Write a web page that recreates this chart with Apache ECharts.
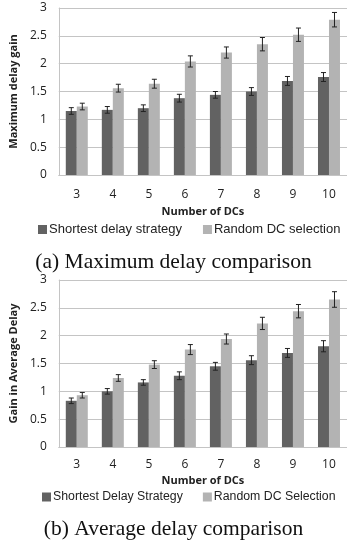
<!DOCTYPE html>
<html style="height: 100%">
<head>
<meta charset="utf-8">
<script src="https://cdn.jsdelivr.net/npm/echarts@6/dist/echarts.min.js"></script>
</head>
<body style="height: 100%; margin: 0; background: #fff">
	<div id="container" style="width: 347px; height: 542px"></div>
	<script type="text/javascript">
		// 横轴
		var dcs = ['3', '4', '5', '6', '7', '8', '9', '10'];
		var yTicks = [0, 0.5, 1, 1.5, 2, 2.5, 3];

		// (a) 最大时延
		var maxShortest = [1.15, 1.17, 1.20, 1.38, 1.44, 1.50, 1.69, 1.76];
		var maxShortestErr = [0.06, 0.06, 0.06, 0.07, 0.06, 0.07, 0.08, 0.08];
		var maxRandom = [1.23, 1.56, 1.64, 2.04, 2.20, 2.35, 2.52, 2.79];
		var maxRandomErr = [0.06, 0.07, 0.08, 0.10, 0.10, 0.12, 0.12, 0.13];

		// (b) 平均时延
		var avgShortest = [0.83, 1.00, 1.16, 1.28, 1.45, 1.56, 1.69, 1.81];
		var avgShortestErr = [0.05, 0.05, 0.05, 0.07, 0.07, 0.08, 0.08, 0.10];
		var avgRandom = [0.93, 1.24, 1.48, 1.75, 1.94, 2.22, 2.44, 2.65];
		var avgRandomErr = [0.05, 0.06, 0.07, 0.09, 0.09, 0.11, 0.12, 0.14];

		var darkColor = '#626262';
		var lightColor = '#b3b3b3';
		var gridColor = '#c4c4c4';
		var sansFont = '"Open Sans", sans-serif';
		var legendFont = '"Liberation Sans", sans-serif';
		var serifFont = '"Liberation Serif", serif';
		var barW = 11;

		var dom = document.getElementById("container");
		var myChart = echarts.init(dom);

		function xAxisFor(idx, labelMargin, nameGap) {
			return {
				type: 'category',
				gridIndex: idx,
				data: dcs,
				name: 'Number of DCs',
				nameLocation: 'middle',
				nameGap: nameGap,
				nameTextStyle: { fontFamily: sansFont, fontSize: 11, fontWeight: 'bold', color: '#222' },
				axisLine: { lineStyle: { color: gridColor, width: 1 } },
				axisTick: { show: false },
				axisLabel: { fontFamily: sansFont, fontSize: 12, color: '#222', margin: labelMargin }
			};
		}

		function yAxisFor(idx, title) {
			return {
				type: 'value',
				gridIndex: idx,
				min: yTicks[0],
				max: yTicks[yTicks.length - 1],
				interval: 0.5,
				name: title,
				nameLocation: 'middle',
				nameRotate: 90,
				nameGap: 31,
				nameTextStyle: { fontFamily: sansFont, fontSize: 11, fontWeight: 'bold', color: '#222' },
				axisLine: { show: true, lineStyle: { color: gridColor, width: 1 } },
				axisTick: { show: false },
				splitLine: { lineStyle: { color: gridColor, width: 1 } },
				axisLabel: { fontFamily: sansFont, fontSize: 12, color: '#222', margin: 12 }
			};
		}

		function barSeries(name, idx, data, color) {
			return {
				name: name,
				type: 'bar',
				xAxisIndex: idx,
				yAxisIndex: idx,
				barWidth: barW,
				barGap: '0%',
				itemStyle: { color: color },
				data: data
			};
		}

		// 误差线
		function errSeries(idx, vals, errs, shift) {
			var data = vals.map(function (v, i) { return [i, v - errs[i], v + errs[i]]; });
			return {
				type: 'custom',
				xAxisIndex: idx,
				yAxisIndex: idx,
				silent: true,
				z: 5,
				data: data,
				renderItem: function (params, api) {
					var lo = api.coord([api.value(0), api.value(1)]);
					var hi = api.coord([api.value(0), api.value(2)]);
					var x = lo[0] + shift;
					var cap = 2.5;
					var st = { stroke: '#222', lineWidth: 1 };
					return {
						type: 'group',
						children: [
							{ type: 'line', shape: { x1: x, y1: lo[1], x2: x, y2: hi[1] }, style: st },
							{ type: 'line', shape: { x1: x - cap, y1: lo[1], x2: x + cap, y2: lo[1] }, style: st },
							{ type: 'line', shape: { x1: x - cap, y1: hi[1], x2: x + cap, y2: hi[1] }, style: st }
						]
					};
				}
			};
		}

		function legendFor(names, left, top, fontSize, gap) {
			return {
				data: names, left: left, top: top, width: 340,
				itemWidth: 9, itemHeight: 9, itemGap: gap, icon: 'rect',
				textStyle: { fontFamily: legendFont, fontSize: fontSize, color: '#222', padding: [0, 0, 0, -3] }
			};
		}

		var option = {
			animation: false,
			title: [
				{ text: '(a) Maximum delay comparison', left: 'center', top: 246,
				  textStyle: { fontFamily: serifFont, fontSize: 21.5, fontWeight: 'normal', color: '#111' } },
				{ text: '(b) Average delay comparison', left: 'center', top: 513,
				  textStyle: { fontFamily: serifFont, fontSize: 21.5, fontWeight: 'normal', color: '#111' } }
			],
			legend: [
				legendFor(['Shortest delay strategy', 'Random DC selection'], 33, 218, 13, 21),
				legendFor(['Shortest Delay Strategy', 'Random DC Selection'], 37, 486, 12.3, 20)
			],
			grid: [
				{ left: 49, top: 8, width: 300, height: 167 },
				{ left: 49, top: 280, width: 302, height: 167 }
			],
			xAxis: [xAxisFor(0, 14, 31), xAxisFor(1, 12, 28)],
			yAxis: [yAxisFor(0, 'Maximum delay gain'), yAxisFor(1, 'Gain in Average Delay')],
			series: [
				barSeries('Shortest delay strategy', 0, maxShortest, darkColor),
				barSeries('Random DC selection', 0, maxRandom, lightColor),
				errSeries(0, maxShortest, maxShortestErr, -barW / 2),
				errSeries(0, maxRandom, maxRandomErr, barW / 2),
				barSeries('Shortest Delay Strategy', 1, avgShortest, darkColor),
				barSeries('Random DC Selection', 1, avgRandom, lightColor),
				errSeries(1, avgShortest, avgShortestErr, -barW / 2),
				errSeries(1, avgRandom, avgRandomErr, barW / 2)
			]
		};

		myChart.setOption(option);
	</script>
</body>
</html>
